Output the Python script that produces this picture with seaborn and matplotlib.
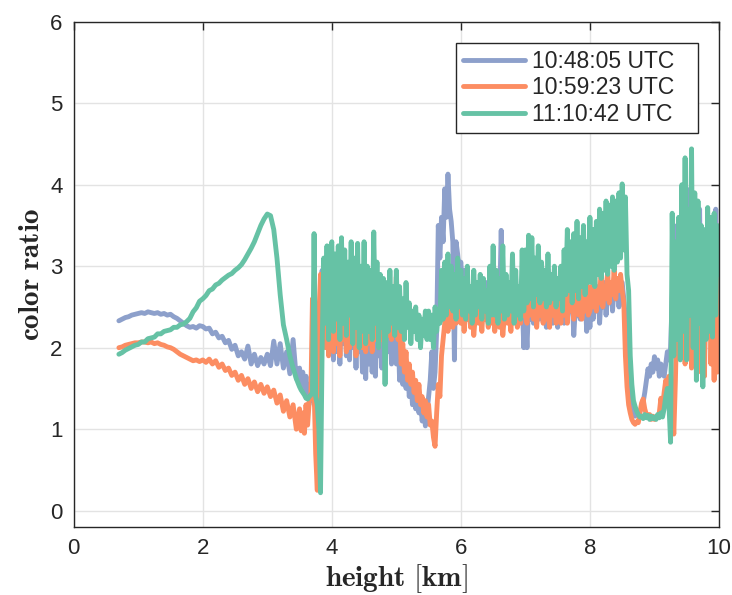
import numpy as np
import pandas as pd
import matplotlib
matplotlib.use("Agg")
import matplotlib.pyplot as plt
from matplotlib.lines import Line2D
import seaborn as sns

sns.set_theme(style="white")
plt.rcParams["font.family"] = ["Liberation Sans", "DejaVu Sans"]
plt.rcParams["mathtext.fontset"] = "cm"

# sampling heights [km]: 0.05 km below 3.5 km, 0.025 km above
heights = np.round(np.concatenate([np.arange(0.70, 3.4501, 0.05),
                                   np.arange(3.50, 10.0001, 0.025)]), 3)

times = ["10:48:05 UTC", "10:59:23 UTC", "11:10:42 UTC"]
colors = ["#8DA0CB", "#FC8D62", "#66C2A5"]

ratio_1048 = [
    # 0.70 - 3.45 km
    2.33, 2.35, 2.37, 2.38, 2.40, 2.41,
    2.42, 2.43, 2.42, 2.44, 2.43, 2.42, 2.43, 2.41, 2.42, 2.40, 2.41, 2.38, 2.36, 2.33, 2.30, 2.27, 2.25, 2.26, 2.24, 2.27,
    2.26, 2.23, 2.24, 2.17, 2.19, 2.12, 2.14, 2.06, 2.09, 1.98, 2.03, 1.90, 1.95, 1.86, 2.02, 1.80, 1.92, 1.78, 1.88, 1.80,
    1.92, 1.78, 2.08, 1.80, 2.05, 1.75, 1.95, 1.68, 2.10, 1.62,
    # 3.50 - 10.00 km
    1.75, 1.55, 1.70, 1.45, 1.65, 1.40, 1.55, 1.35, 1.60, 1.30, 1.45, 1.40, 2.10, 2.60, 2.95, 2.20, 2.85, 2.00, 2.70, 1.95,
    2.50, 1.85, 2.70, 1.95, 2.40, 1.80, 2.60, 2.05, 2.80, 1.90, 2.35, 1.85, 2.55, 2.00, 2.45, 1.75, 2.65, 1.95, 2.30, 1.70,
    2.45, 1.62, 2.35, 1.80, 2.50, 1.70, 2.40, 1.65, 2.30, 1.90, 2.45, 1.75, 2.55, 1.85, 2.30, 1.95, 2.40, 1.80, 2.25, 1.90,
    1.80, 2.30, 1.60, 2.10, 1.55, 1.95, 1.50, 1.75, 1.40, 1.60, 1.30, 1.55, 1.25, 1.45, 1.20, 1.35, 1.10, 1.30, 1.04, 1.20,
    1.40, 1.60, 1.95, 1.50, 1.70, 2.20, 3.50, 3.10, 3.60, 3.30, 3.95, 3.60, 4.13, 3.70, 3.55, 3.30, 1.85, 3.30, 3.15, 2.95,
    3.05, 2.70, 2.95, 2.50, 2.80, 2.40, 2.65, 2.45, 2.75, 2.35, 2.60, 2.50, 2.70, 2.40, 2.65, 2.55, 2.80, 2.45, 2.60, 2.50,
    2.55, 2.70, 2.45, 2.65, 2.50, 3.44, 2.55, 2.70, 2.40, 2.60, 2.75, 2.45, 2.65, 2.50, 2.40, 2.70, 2.55, 2.35, 2.60, 2.00,
    2.40, 2.00, 2.55, 2.35, 2.60, 2.30, 2.50, 2.45, 2.65, 2.35, 2.55, 2.40, 2.60, 2.25, 2.50, 2.40, 2.65, 2.30, 2.55, 2.45,
    2.25, 2.60, 2.40, 2.55, 2.30, 2.65, 2.35, 2.55, 2.45, 2.60, 2.15, 2.50, 2.40, 2.60, 2.35, 2.55, 2.45, 2.65, 2.20, 2.55,
    2.25, 2.60, 2.35, 2.70, 2.45, 2.75, 2.30, 2.65, 2.50, 2.80, 2.40, 2.70, 2.55, 2.80, 2.45, 2.75, 2.60, 2.85, 2.50, 2.80,
    2.80, 2.60, 2.35, 1.90, 1.55, 1.35, 1.24, 1.18, 1.16, 1.20, 1.18, 1.22, 1.26, 1.33, 1.45, 1.60, 1.74, 1.65, 1.80, 1.70,
    1.89, 1.75, 1.85, 1.65, 1.80, 1.70, 1.65, 1.80, 1.95, 1.85, 2.00, 2.60, 3.20, 2.30, 3.50, 2.10, 3.40, 2.40, 3.80, 2.30,
    3.95, 2.40, 3.30, 2.20, 3.60, 1.90, 3.20, 2.50, 3.70, 2.00, 3.00, 1.82, 3.40, 2.30, 3.60, 2.10, 3.20, 2.40, 3.70, 2.20,
    2.70,
]

ratio_1059 = [
    # 0.70 - 3.45 km
    2.00, 2.01, 2.03, 2.04, 2.05, 2.06,
    2.06, 2.07, 2.07, 2.06, 2.07, 2.05, 2.06, 2.04, 2.03, 2.01, 2.00, 1.98, 1.95, 1.92, 1.90, 1.88, 1.86, 1.84, 1.85, 1.83,
    1.85, 1.82, 1.86, 1.80, 1.84, 1.76, 1.80, 1.72, 1.75, 1.66, 1.70, 1.60, 1.66, 1.55, 1.62, 1.50, 1.58, 1.46, 1.55, 1.44,
    1.52, 1.40, 1.48, 1.32, 1.42, 1.22, 1.35, 1.15, 1.30, 1.00,
    # 3.50 - 10.00 km
    1.25, 0.98, 1.20, 0.95, 1.30, 1.05, 1.35, 1.40, 2.60, 1.50, 0.70, 0.25, 2.40, 2.90, 2.20, 2.80, 2.00, 2.70, 1.90, 2.50,
    2.30, 1.95, 2.55, 2.05, 2.40, 1.90, 2.50, 2.10, 2.35, 1.95, 2.60, 2.00, 2.30, 2.15, 2.45, 1.90, 2.35, 2.05, 2.55, 2.00,
    2.40, 1.95, 2.25, 2.05, 2.50, 1.95, 2.35, 2.10, 2.45, 2.00, 2.30, 2.10, 2.40, 2.05, 2.25, 2.15, 2.60, 2.10, 2.75, 2.20,
    2.87, 2.10, 2.30, 1.80, 2.05, 1.70, 1.95, 1.60, 1.80, 1.55, 1.70, 1.45, 1.60, 1.35, 1.55, 1.30, 1.40, 1.20, 1.35, 1.15,
    1.30, 1.05, 1.10, 0.90, 0.79, 1.20, 1.55, 1.40, 1.90, 2.10, 2.30, 2.95, 2.20, 2.70, 2.40, 2.25, 2.85, 2.30, 2.55, 2.35,
    2.30, 2.55, 2.20, 2.45, 2.35, 2.60, 2.25, 2.50, 2.15, 2.40, 2.65, 2.30, 2.50, 2.20, 2.55, 2.35, 2.45, 2.25, 2.60, 2.30,
    2.60, 2.20, 2.45, 2.70, 2.25, 2.55, 2.15, 2.40, 2.65, 2.30, 2.50, 2.20, 2.55, 2.35, 2.70, 2.25, 2.50, 2.30, 2.60, 2.40,
    2.45, 2.30, 2.75, 2.40, 3.04, 2.35, 2.65, 2.25, 2.55, 2.40, 2.70, 2.30, 2.60, 2.35, 2.50, 2.25, 2.70, 2.40, 2.55, 2.30,
    2.35, 2.60, 2.30, 2.85, 2.40, 2.65, 2.30, 2.80, 2.45, 2.60, 2.35, 2.90, 2.50, 2.40, 2.75, 2.35, 2.60, 2.45, 2.85, 2.40,
    2.45, 2.75, 2.50, 2.90, 2.45, 2.70, 2.55, 3.00, 2.50, 2.75, 2.60, 2.95, 2.55, 2.80, 2.65, 2.95, 2.60, 2.85, 2.70, 2.90,
    2.70, 2.55, 1.90, 1.52, 1.30, 1.20, 1.12, 1.08, 1.06, 1.09, 1.08, 1.20, 1.32, 1.37, 1.25, 1.18, 1.15, 1.18, 1.12, 1.16,
    1.12, 1.15, 1.14, 1.20, 1.38, 1.25, 1.45, 1.60, 1.50, 1.65, 1.30, 1.40, 0.94, 1.60, 2.50, 1.90, 3.00, 2.10, 2.80, 1.80,
    2.60, 1.90, 2.90, 1.75, 2.70, 2.10, 3.10, 1.70, 2.85, 2.00, 3.30, 1.65, 2.90, 2.20, 3.40, 1.80, 2.70, 1.60, 3.00, 1.70,
    2.90,
]

ratio_1110 = [
    # 0.70 - 3.45 km
    1.92, 1.94, 1.97, 1.99, 2.01, 2.03,
    2.04, 2.07, 2.07, 2.11, 2.12, 2.13, 2.17, 2.17, 2.20, 2.21, 2.22, 2.25, 2.25, 2.28, 2.29, 2.32, 2.36, 2.44, 2.49, 2.57,
    2.60, 2.64, 2.70, 2.72, 2.77, 2.79, 2.83, 2.86, 2.89, 2.91, 2.95, 2.98, 3.02, 3.08, 3.15, 3.22, 3.30, 3.40, 3.50, 3.58,
    3.64, 3.62, 3.45, 3.10, 2.65, 2.28, 2.10, 1.90, 1.75, 1.62,
    # 3.50 - 10.00 km
    1.52, 1.48, 1.45, 1.42, 1.38, 1.37, 1.40, 1.42, 1.45, 3.40, 1.40, 1.30, 1.00, 0.22, 2.00, 3.10, 2.30, 3.25, 2.10, 3.20,
    3.30, 2.20, 3.15, 2.35, 3.25, 2.10, 3.35, 2.30, 3.20, 2.15, 3.05, 2.40, 3.30, 2.05, 3.10, 2.25, 3.28, 2.00, 3.00, 2.20,
    3.30, 2.05, 3.00, 2.20, 2.95, 2.10, 3.42, 2.30, 3.05, 2.00, 2.90, 2.25, 2.85, 1.55, 2.80, 2.20, 2.95, 2.30, 2.75, 2.15,
    2.95, 2.25, 2.75, 2.20, 2.60, 2.10, 2.80, 2.25, 2.55, 2.05, 2.45, 2.20, 2.50, 2.10, 2.40, 2.00, 2.35, 2.15, 2.45, 2.10,
    2.45, 2.10, 2.40, 2.00, 2.50, 2.20, 2.45, 2.30, 2.95, 2.35, 3.05, 2.40, 3.15, 2.50, 3.00, 2.45, 2.90, 2.35, 3.10, 2.50,
    2.95, 2.40, 2.85, 2.35, 3.00, 2.45, 2.75, 2.30, 2.95, 2.40, 2.80, 2.50, 2.90, 2.35, 2.85, 2.45, 2.70, 2.30, 3.00, 2.40,
    3.25, 2.40, 2.95, 2.30, 2.85, 2.45, 3.25, 2.35, 2.90, 2.40, 2.80, 2.45, 3.15, 2.30, 2.95, 2.40, 2.75, 2.35, 3.20, 2.45,
    3.20, 2.55, 3.38, 2.60, 3.35, 2.50, 3.10, 2.65, 3.25, 2.55, 3.05, 2.60, 2.95, 2.50, 3.15, 2.55, 2.90, 2.60, 3.00, 2.50,
    2.85, 2.60, 3.00, 2.45, 3.20, 2.65, 3.45, 2.70, 3.30, 2.55, 3.40, 2.70, 3.55, 2.60, 3.35, 2.75, 3.50, 2.65, 3.30, 2.80,
    3.60, 2.80, 3.45, 2.75, 3.55, 2.90, 3.70, 2.85, 3.65, 2.95, 3.80, 2.90, 3.75, 3.00, 3.85, 2.95, 3.80, 3.05, 3.90, 3.10,
    4.01, 3.20, 3.85, 2.90, 2.70, 1.90, 1.55, 1.35, 1.28, 1.22, 1.18, 1.15, 1.16, 1.13, 1.18, 1.14, 1.17, 1.12, 1.16, 1.13,
    1.15, 1.12, 1.18, 1.14, 1.20, 1.15, 1.25, 1.40, 1.50, 1.30, 0.84, 3.65, 1.90, 3.30, 2.10, 3.60, 1.85, 4.00, 2.20, 4.33,
    1.85, 3.70, 2.40, 4.44, 2.00, 3.90, 1.60, 3.80, 2.30, 3.50, 1.52, 3.45, 2.10, 3.72, 2.20, 3.60, 2.13, 3.65, 2.40, 3.50,
    2.90,
]

x_ticks = [0, 2, 4, 6, 8, 10]
y_ticks = [0, 1, 2, 3, 4, 5, 6]

df = pd.DataFrame({
    "height": np.concatenate([heights] * 3),
    "ratio": np.concatenate([ratio_1048, ratio_1059, ratio_1110]),
    "time": np.repeat(times, len(heights)),
})

fig = plt.figure(figsize=(7.32, 5.95), dpi=100)
ax = fig.add_axes([0.1007, 0.1143, 0.8815, 0.8492])
ax.set_facecolor("white")

sns.lineplot(data=df, x="height", y="ratio", hue="time", hue_order=times,
             palette=dict(zip(times, colors)), sort=False, estimator=None,
             lw=3.5, ax=ax, legend=False, solid_joinstyle="round")

ax.set_xlim(0, 10)
ax.set_ylim(-0.2, 6)
ax.set_xticks(x_ticks)
ax.set_yticks(y_ticks)
ax.grid(True, color="#e3e3e3", lw=1)
ax.set_axisbelow(True)
for s in ax.spines.values():
    s.set_visible(True)
    s.set_color("#262626")
    s.set_linewidth(1)
ax.tick_params(direction="in", length=6, width=1, top=True, right=True,
               labelsize=16, colors="#262626", pad=8)

ax.set_xlabel(r"$\mathbf{height\ [km]}$", fontsize=21, color="#262626", labelpad=2)
ax.set_ylabel(r"$\mathbf{color\ ratio}$", fontsize=21, color="#262626", labelpad=4)

handles = [Line2D([], [], color=c, lw=3.5) for c in colors]
leg = ax.legend(handles, times, loc="upper left",
                bbox_to_anchor=(0.5924, 0.5, 0.3751, 0.458), mode="expand",
                borderaxespad=0, fontsize=16.5, handlelength=2.7, handletextpad=0.3,
                labelspacing=0.15, borderpad=0.3, fancybox=False, framealpha=1,
                edgecolor="#262626")
leg.get_frame().set_linewidth(1)

fig.savefig("out.png", dpi=100, facecolor="white")
